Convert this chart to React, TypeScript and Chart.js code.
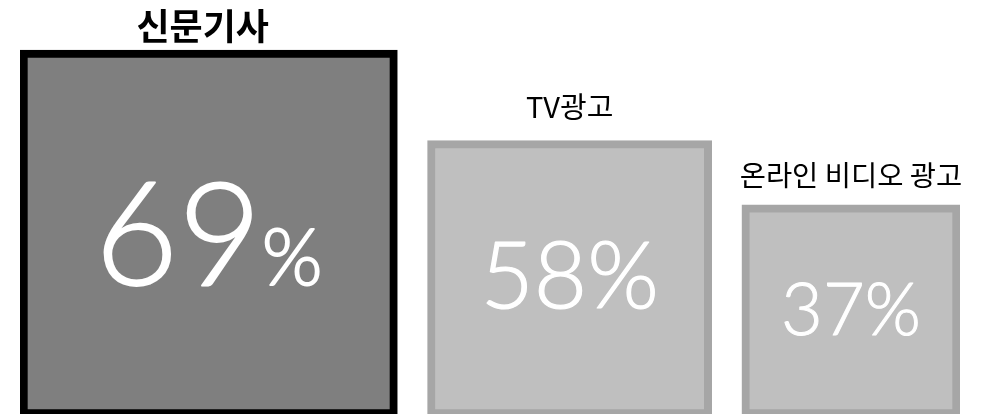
import React, { useEffect, useRef } from 'react';
import { Chart, registerables } from 'chart.js';

Chart.register(...registerables);

// ---- data ----
const categories = ['신문기사', 'TV광고', '온라인 비디오 광고'];
const percentValues = [69, 58, 37];
// relative visual size of each box (largest = 100)
const boxSize = [100, 75.3, 57.8];
const boxGap = 8; // gap between boxes, in the same units

// ---- styles ----
const fills = ['#7f7f7f', '#bfbfbf', '#bfbfbf'];
const borders = ['#000000', '#a6a6a6', '#a6a6a6'];
const labelFonts = [
  'bold 36px "Noto Sans CJK KR"',
  '29px "Noto Sans CJK KR"',
  '28.5px "Noto Sans CJK KR"',
];
const labelGaps = [24, 34, 30];
const labelShiftX = [-6, 0, 0];
const numberFontSizes = [144, 92, 72];
const percentFontSizes = [78, 92, 72];
const numberStroke = [1.8, 1.2, 1.0];
const numberShiftY = [0, -4, -2];
const numberFamily = 'Lato';

const boxStarts: number[] = [];
{
  let acc = 0;
  boxSize.forEach((s) => {
    boxStarts.push(acc);
    acc += s + boxGap;
  });
}
const xMax = boxStarts[boxStarts.length - 1] + boxSize[boxSize.length - 1];

const textPlugin = {
  id: 'boxText',
  afterDatasetsDraw(chart: any) {
    const ctx = chart.ctx as CanvasRenderingContext2D;
    ctx.save();
    chart.data.datasets.forEach((_ds: any, i: number) => {
      const meta = chart.getDatasetMeta(i);
      const bar: any = meta.data[0];
      if (!bar) return;
      const top = bar.y;
      const bottom = bar.base;
      const cx = bar.x;

      // category label above box
      ctx.fillStyle = '#000000';
      ctx.font = labelFonts[i];
      ctx.textAlign = 'center';
      ctx.textBaseline = 'middle';
      ctx.fillText(categories[i], cx + labelShiftX[i], top - labelGaps[i]);

      // percentage inside box
      const numStr = String(percentValues[i]);
      const numFont = `300 ${numberFontSizes[i]}px ${numberFamily}`;
      const pctFont = `300 ${percentFontSizes[i]}px ${numberFamily}`;
      ctx.textAlign = 'left';
      ctx.textBaseline = 'alphabetic';
      ctx.font = numFont;
      const m = ctx.measureText(numStr);
      const numW = m.width;
      const asc = m.actualBoundingBoxAscent;
      ctx.font = pctFont;
      const pctW = ctx.measureText('%').width;
      const total = numW + pctW;
      const cy = (top + bottom) / 2 + numberShiftY[i];
      const baseline = cy + asc / 2;
      const x0 = cx - total / 2;
      ctx.fillStyle = '#ffffff';
      ctx.strokeStyle = '#ffffff';
      ctx.lineWidth = numberStroke[i];
      ctx.lineJoin = 'round';
      ctx.font = numFont;
      ctx.fillText(numStr, x0, baseline);
      ctx.strokeText(numStr, x0, baseline);
      ctx.font = pctFont;
      ctx.fillText('%', x0 + numW, baseline);
      ctx.strokeText('%', x0 + numW, baseline);
    });
    ctx.restore();
  },
};

export default function App() {
  const canvasRef = useRef<HTMLCanvasElement | null>(null);

  useEffect(() => {
    if (!canvasRef.current) return;
    const datasets = categories.map((c, i) => ({
      label: c,
      data: [{ x: boxStarts[i] + boxSize[i] / 2, y: [0, boxSize[i]] }],
      backgroundColor: fills[i],
      borderColor: borders[i],
      borderWidth: 8,
      borderSkipped: false,
      grouped: false,
      barThickness: (ctx: any) => {
        const xs = ctx.chart.scales.x;
        return xs.getPixelForValue(boxSize[i]) - xs.getPixelForValue(0);
      },
    }));

    const chart = new Chart(canvasRef.current, {
      type: 'bar',
      data: { datasets } as any,
      options: {
        animation: false,
        responsive: true,
        maintainAspectRatio: false,
        layout: { padding: { left: 20, right: 29, top: 0, bottom: 0 } },
        plugins: {
          legend: { display: false },
          tooltip: { enabled: false },
        },
        scales: {
          x: {
            type: 'linear',
            min: 0,
            max: xMax,
            offset: false,
            display: false,
          },
          y: {
            type: 'linear',
            min: 0.82,
            max: 0.82 + 414 / 3.67,
            display: false,
          },
        },
      } as any,
      plugins: [textPlugin],
    });
    return () => chart.destroy();
  }, []);

  return (
    <div style={{ position: 'absolute', left: 0, top: 0, width: 989, height: 414, background: '#ffffff' }}>
      <canvas ref={canvasRef} />
    </div>
  );
}
